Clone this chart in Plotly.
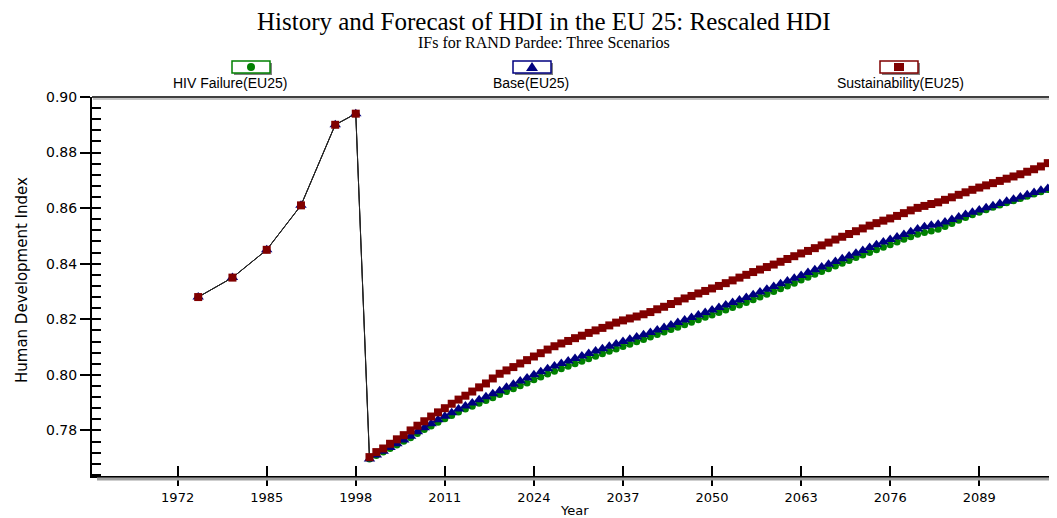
import plotly.graph_objects as go

# Datos
hist_years = [1975, 1980, 1985, 1990, 1995, 1998]
hist_hdi = [0.828, 0.835, 0.845, 0.861, 0.890, 0.894]

fc_years = list(range(2000, 2101))

hiv_failure = [
    0.7697, 0.7710, 0.7722, 0.7735, 0.7748, 0.7761, 0.7774, 0.7789, 0.7803, 0.7816,
    0.7829, 0.7842, 0.7854, 0.7866, 0.7877, 0.7887, 0.7898, 0.7908, 0.7918, 0.7929,
    0.7940, 0.7950, 0.7961, 0.7971, 0.7982, 0.7992, 0.8003, 0.8013, 0.8022, 0.8031,
    0.8040, 0.8049, 0.8058, 0.8067, 0.8076, 0.8085, 0.8093, 0.8102, 0.8110, 0.8119,
    0.8127, 0.8136, 0.8145, 0.8154, 0.8163, 0.8171, 0.8180, 0.8189, 0.8198, 0.8207,
    0.8215, 0.8224, 0.8233, 0.8242, 0.8251, 0.8260, 0.8270, 0.8280, 0.8290, 0.8300,
    0.8310, 0.8320, 0.8330, 0.8341, 0.8351, 0.8362, 0.8372, 0.8382, 0.8392, 0.8402,
    0.8412, 0.8422, 0.8431, 0.8440, 0.8450, 0.8459, 0.8468, 0.8478, 0.8488, 0.8497,
    0.8506, 0.8512, 0.8518, 0.8524, 0.8534, 0.8545, 0.8556, 0.8566, 0.8576, 0.8585,
    0.8594, 0.8603, 0.8611, 0.8619, 0.8627, 0.8635, 0.8643, 0.8651, 0.8659, 0.8667,
    0.8675,
]

base = [
    0.7697, 0.7712, 0.7725, 0.7739, 0.7752, 0.7766, 0.7779, 0.7795, 0.7810, 0.7824,
    0.7838, 0.7851, 0.7864, 0.7877, 0.7888, 0.7899, 0.7910, 0.7921, 0.7932, 0.7943,
    0.7955, 0.7966, 0.7978, 0.7989, 0.8000, 0.8011, 0.8022, 0.8032, 0.8041, 0.8050,
    0.8059, 0.8068, 0.8077, 0.8086, 0.8094, 0.8103, 0.8111, 0.8120, 0.8128, 0.8136,
    0.8144, 0.8152, 0.8161, 0.8170, 0.8179, 0.8188, 0.8197, 0.8206, 0.8215, 0.8224,
    0.8233, 0.8242, 0.8251, 0.8260, 0.8269, 0.8278, 0.8288, 0.8298, 0.8308, 0.8318,
    0.8328, 0.8338, 0.8348, 0.8358, 0.8368, 0.8378, 0.8388, 0.8398, 0.8408, 0.8418,
    0.8428, 0.8438, 0.8448, 0.8458, 0.8468, 0.8478, 0.8487, 0.8496, 0.8505, 0.8515,
    0.8525, 0.8533, 0.8538, 0.8542, 0.8550, 0.8559, 0.8568, 0.8577, 0.8585, 0.8593,
    0.8601, 0.8609, 0.8617, 0.8625, 0.8632, 0.8640, 0.8648, 0.8656, 0.8664, 0.8671,
    0.8678,
]

sustainability = [
    0.7704, 0.7722, 0.7735, 0.7752, 0.7768, 0.7783, 0.7800, 0.7817, 0.7833, 0.7850,
    0.7865, 0.7880, 0.7896, 0.7911, 0.7925, 0.7940, 0.7955, 0.7969, 0.7987, 0.8004,
    0.8016, 0.8028, 0.8041, 0.8053, 0.8066, 0.8078, 0.8091, 0.8103, 0.8113, 0.8122,
    0.8132, 0.8141, 0.8151, 0.8160, 0.8169, 0.8178, 0.8188, 0.8196, 0.8203, 0.8210,
    0.8218, 0.8226, 0.8236, 0.8245, 0.8255, 0.8265, 0.8275, 0.8284, 0.8293, 0.8302,
    0.8311, 0.8320, 0.8330, 0.8340, 0.8350, 0.8360, 0.8370, 0.8379, 0.8388, 0.8397,
    0.8407, 0.8417, 0.8427, 0.8437, 0.8446, 0.8456, 0.8466, 0.8476, 0.8487, 0.8497,
    0.8507, 0.8517, 0.8527, 0.8537, 0.8546, 0.8555, 0.8563, 0.8572, 0.8582, 0.8592,
    0.8601, 0.8608, 0.8615, 0.8621, 0.8630, 0.8639, 0.8648, 0.8657, 0.8666, 0.8674,
    0.8682, 0.8690, 0.8698, 0.8706, 0.8714, 0.8722, 0.8731, 0.8740, 0.8750, 0.8762,
    0.8774,
]

series_names = ["HIV Failure(EU25)", "Base(EU25)", "Sustainability(EU25)"]
series_colors = ["#008000", "#000080", "#800000"]
series_symbols = ["circle", "triangle-up", "square"]
series_sizes = [7, 10, 8]

# La pagina tiene 8px de margen; todo se mide en pixeles de la imagen y se corrige
OFF = 8
W, H = 1057 - OFF, 518 - OFF
L, R, T, B = 92 - OFF, 1056 - OFF, 97 - OFF, 476 - OFF


def xp(px):
    return (px - OFF - L) / (R - L)


def yp(py):
    return (B - (py - OFF)) / (B - T)


fig = go.Figure()

for name, vals, color, sym, size in zip(series_names, [hiv_failure, base, sustainability],
                                         series_colors, series_symbols, series_sizes):
    fig.add_trace(go.Scatter(
        x=hist_years + fc_years,
        y=hist_hdi + vals,
        name=name,
        mode="lines+markers",
        line=dict(color="#222222", width=1),
        marker=dict(symbol=sym, size=size, color=color, line=dict(width=0)),
        showlegend=False,
    ))

# Traza vacia para que se dibujen los ejes de ticks interiores
fig.add_trace(go.Scatter(x=[None], y=[None], xaxis="x2", yaxis="y2",
                         showlegend=False, hoverinfo="skip"))

x_range = [1959.5, 2100.2]
y_range = [0.7636, 0.9]

fig.update_layout(
    width=W, height=H,
    margin=dict(l=L, r=W - R, t=T, b=H - B),
    paper_bgcolor="white",
    plot_bgcolor="white",
    xaxis=dict(
        range=x_range, tick0=1972, dtick=13,
        showline=True, linecolor="black", linewidth=2,
        ticks="outside", ticklen=8, tickwidth=1.5, tickcolor="black",
        showgrid=False, zeroline=False,
        tickfont=dict(family="DejaVu Sans", size=13, color="black"),
    ),
    yaxis=dict(
        range=y_range, tick0=0.78, dtick=0.02, tickformat=".2f",
        showline=True, linecolor="black", linewidth=2,
        ticks="outside", ticklen=10, tickwidth=1.5, tickcolor="black",
        showgrid=False, zeroline=False,
        tickfont=dict(family="DejaVu Sans", size=14, color="black"),
    ),
    xaxis2=dict(
        range=x_range, overlaying="x", anchor="y2", side="bottom",
        tick0=1972, dtick=13, ticks="inside", ticklen=10, tickwidth=1.5,
        tickcolor="black", showticklabels=False, showline=False,
        showgrid=False, zeroline=False,
    ),
    yaxis2=dict(
        range=y_range, overlaying="y", anchor="x2", side="left",
        tick0=0.76, dtick=0.004, ticks="inside", ticklen=9, tickwidth=1.5,
        tickcolor="black", showticklabels=False, showline=False,
        showgrid=False, zeroline=False,
    ),
)

# Lineas de marco y sombras
shapes = [
    dict(type="line", xref="paper", yref="paper", x0=0, x1=1.01, y0=1, y1=1,
         line=dict(color="black", width=1.5)),
    dict(type="line", xref="paper", yref="paper", x0=xp(93), x1=1.01, y0=yp(99), y1=yp(99),
         line=dict(color="#b0b0b0", width=1.5)),
    dict(type="line", xref="paper", yref="paper", x0=xp(97), x1=1.01, y0=yp(479), y1=yp(479),
         line=dict(color="#a0a0a0", width=3)),
]

# Leyenda personalizada: icono encima del texto
legend_box_x = [232, 513, 880]
legend_label_x = [230, 531, 900]
box_w, box_h = 38, 12
box_top = 61

annotations = []
for i, name in enumerate(series_names):
    bx0 = legend_box_x[i]
    bx1 = bx0 + box_w
    by0 = box_top
    by1 = box_top + box_h
    cx = (bx0 + bx1) / 2
    cy = (by0 + by1) / 2
    color = series_colors[i]
    shapes.append(dict(type="rect", xref="paper", yref="paper",
                       x0=xp(bx0 + 2), x1=xp(bx1 + 2), y0=yp(by0 + 2), y1=yp(by1 + 2),
                       fillcolor="#808080", line=dict(width=0)))
    shapes.append(dict(type="rect", xref="paper", yref="paper",
                       x0=xp(bx0), x1=xp(bx1), y0=yp(by0), y1=yp(by1),
                       fillcolor="white", line=dict(color=color, width=1.5)))
    if series_symbols[i] == "circle":
        shapes.append(dict(type="circle", xref="paper", yref="paper",
                           x0=xp(cx - 4), x1=xp(cx + 4), y0=yp(cy - 4), y1=yp(cy + 4),
                           fillcolor=color, line=dict(width=0)))
    elif series_symbols[i] == "triangle-up":
        path = "M {} {} L {} {} L {} {} Z".format(
            xp(cx - 6), yp(cy + 4), xp(cx + 6), yp(cy + 4), xp(cx), yp(cy - 5))
        shapes.append(dict(type="path", xref="paper", yref="paper", path=path,
                           fillcolor=color, line=dict(width=0)))
    else:
        shapes.append(dict(type="rect", xref="paper", yref="paper",
                           x0=xp(cx - 5), x1=xp(cx + 5), y0=yp(cy - 4), y1=yp(cy + 4),
                           fillcolor=color, line=dict(width=0)))
    annotations.append(dict(text=name, xref="paper", yref="paper",
                            x=xp(legend_label_x[i]), y=yp(83),
                            xanchor="center", yanchor="middle", showarrow=False,
                            font=dict(family="Liberation Sans", size=14, color="black")))

annotations += [
    dict(text="History and Forecast of HDI in the EU 25: Rescaled HDI",
         xref="paper", yref="paper", x=xp(543), y=yp(21),
         xanchor="center", yanchor="middle", showarrow=False,
         font=dict(family="Liberation Serif", size=25, color="black")),
    dict(text="IFs for RAND Pardee: Three Scenarios",
         xref="paper", yref="paper", x=xp(544), y=yp(42),
         xanchor="center", yanchor="middle", showarrow=False,
         font=dict(family="Liberation Serif", size=16, color="black")),
    dict(text="Year", xref="paper", yref="paper", x=xp(574), y=yp(510),
         xanchor="center", yanchor="middle", showarrow=False,
         font=dict(family="DejaVu Sans", size=13, color="black")),
    dict(text="Human Development Index", xref="paper", yref="paper",
         x=xp(22), y=yp(280), textangle=-90,
         xanchor="center", yanchor="middle", showarrow=False,
         font=dict(family="DejaVu Sans", size=15, color="black")),
]

fig.update_layout(shapes=shapes, annotations=annotations)

fig.write_html("out.html")
